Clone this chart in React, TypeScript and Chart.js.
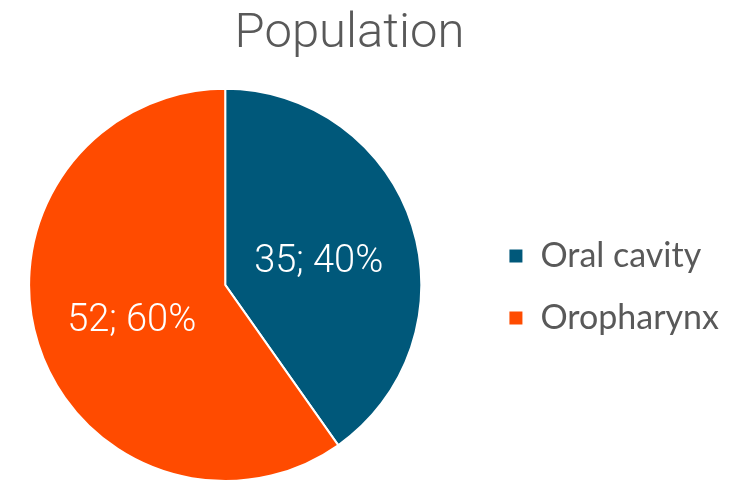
import React, { useEffect, useRef } from "react";
import { Chart, registerables } from "chart.js";

Chart.register(...registerables);

const categories = ["Oral cavity", "Oropharynx"];
const values = [35, 52];
const colors = ["#00587A", "#FF4B00"];
const titleText = "Population";

const labelPlugin = {
  id: "sliceLabels",
  afterDatasetsDraw(chart: any) {
    const { ctx } = chart;
    const meta = chart.getDatasetMeta(0);
    const total = values.reduce((a, b) => a + b, 0);
    const size = 38;
    ctx.save();
    ctx.fillStyle = "#ffffff";
    ctx.font = `300 ${size}px Roboto`;
    ctx.textAlign = "center";
    ctx.textBaseline = "alphabetic";
    meta.data.forEach((arc: any, i: number) => {
      const p = arc.getCenterPoint();
      const pct = Math.round((values[i] / total) * 100);
      ctx.fillText(`${values[i]}; ${pct}%`, p.x, p.y + 3 + size * 0.711 / 2);
    });
    ctx.restore();
  },
};

export default function App() {
  const ref = useRef<HTMLCanvasElement | null>(null);
  useEffect(() => {
    document.body.style.margin = "0";
    const chart = new Chart(ref.current as HTMLCanvasElement, {
      type: "pie",
      data: {
        labels: categories,
        datasets: [
          {
            data: values,
            backgroundColor: colors,
            borderColor: "#ffffff",
            borderWidth: 2,
          },
        ],
      },
      options: {
        responsive: false,
        animation: false,
        layout: { padding: { left: 0, right: 10, top: 0, bottom: 3 } },
        plugins: {
          title: {
            display: true,
            text: titleText,
            color: "#595959",
            font: { family: "Roboto", size: 49, weight: "300" },
            padding: { top: 5, bottom: 24 },
          },
          legend: {
            position: "right",
            title: {
              display: true,
              text: " ",
              font: { size: 10 },
              padding: { top: 40, bottom: 40 },
            },
            labels: {
              boxWidth: 15,
              boxHeight: 15,
              padding: 28,
              color: "#595959",
              font: { family: "Lato", size: 34 },
            },
          },
          tooltip: { enabled: false },
        },
      },
      plugins: [labelPlugin],
    });
    return () => chart.destroy();
  }, []);
  return (
    <div style={{ width: 741, height: 485, overflow: "hidden", position: "relative" }}>
      <canvas
        ref={ref}
        width={769}
        height={485}
        style={{ position: "absolute", left: -30, top: 0 }}
      />
    </div>
  );
}
